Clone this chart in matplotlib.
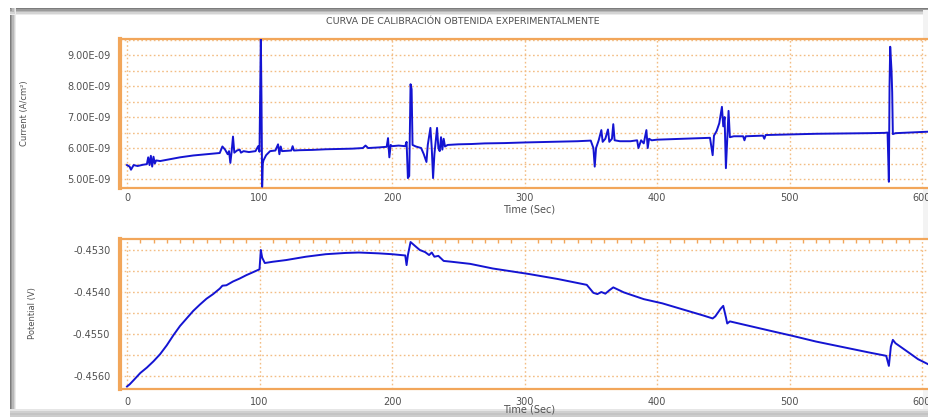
import matplotlib
matplotlib.use("Agg")
import matplotlib.pyplot as plt
from matplotlib.patches import Rectangle
from matplotlib.ticker import FuncFormatter, MultipleLocator

# ---------------- data ----------------
title = "CURVA DE CALIBRACIÓN OBTENIDA EXPERIMENTALMENTE"
xlabel = "Time (Sec)"
ylabel_top = "Current (A/cm²)"
ylabel_bot = "Potential (V)"
x_ticks = [0, 100, 200, 300, 400, 500, 600]
cur_ticks = [5e-9, 6e-9, 7e-9, 8e-9, 9e-9]
pot_ticks = [-0.4560, -0.4550, -0.4540, -0.4530]

# current (units of 1e-9 A/cm2)
cur_t = [0, 2, 3, 5, 8, 12, 15, 16, 17, 18, 19, 20, 21, 22, 25, 30, 40, 50, 60, 70,
         72, 74, 76, 77, 78, 79, 80, 81, 83, 85, 86, 88, 92, 97, 99, 100, 101, 101.5,
         102, 102.5, 103, 105, 108, 112, 114, 115, 116, 117, 124, 125, 126, 130, 140,
         150, 160, 170, 178, 180, 182, 190, 196, 197, 198, 199, 200, 205, 210, 211,
         212, 213, 214, 214.8, 215.5, 218, 222, 224, 226, 227, 229, 230, 231, 232, 234,
         235, 236, 237, 238, 239, 240, 242, 250, 260, 270, 285, 300, 320, 340, 350,
         352, 353, 354, 356, 358, 359, 361, 363, 364, 366, 367, 368, 372, 380, 385,
         386, 388, 390, 392, 393, 394, 396, 400, 420, 435, 440, 442, 443, 445, 447,
         449, 450, 451, 452, 453, 454, 455, 458, 465, 466, 467, 480, 481, 482, 500,
         520, 540, 560, 572, 574, 575, 575.5, 576, 577, 577.5, 578, 580, 590, 600, 606]
cur_v = [5.45, 5.40, 5.30, 5.45, 5.42, 5.46, 5.48, 5.70, 5.45, 5.75, 5.40, 5.72, 5.50, 5.60,
         5.58, 5.62, 5.70, 5.76, 5.80, 5.84,
         6.05, 5.95, 5.80, 5.90, 5.52, 5.90, 6.37, 5.85, 5.92, 5.95, 5.85, 5.90, 5.87, 5.90,
         6.06, 5.88, 9.60, 7.60,
         4.75, 5.50, 5.60, 5.77, 5.90, 5.92, 6.12, 5.80, 6.05, 5.90, 5.92, 6.06, 5.92, 5.93,
         5.94,
         5.96, 5.97, 5.98, 6.00, 6.08, 6.00, 6.02, 6.04, 6.32, 5.70, 6.10, 6.06, 6.08, 6.06,
         6.20,
         5.03, 5.10, 8.06, 7.90, 6.10, 6.05, 6.00, 5.80, 5.55, 6.10, 6.65, 6.00, 5.03, 5.80,
         6.65,
         6.00, 5.90, 6.35, 5.95, 6.30, 6.05, 6.10, 6.12, 6.13, 6.15, 6.16, 6.18, 6.20, 6.22,
         6.24,
         6.00, 5.40, 6.00, 6.25, 6.58, 6.20, 6.30, 6.60, 6.20, 6.30, 6.77, 6.25, 6.22, 6.22,
         6.25,
         6.00, 6.25, 6.15, 6.58, 6.00, 6.30, 6.25, 6.27, 6.30, 6.32, 6.33, 5.77, 6.40, 6.55,
         6.80,
         7.33, 6.70, 7.00, 5.35, 6.30, 7.20, 6.35, 6.38, 6.38, 6.25, 6.38, 6.40, 6.30, 6.42,
         6.44,
         6.46, 6.47, 6.48, 6.49, 6.50, 4.91, 8.00, 9.27, 8.50, 7.80, 6.45, 6.48, 6.50, 6.52,
         6.53]

# potential (V)
pot_t = [0, 2, 5, 10, 15, 20, 25, 30, 35, 40, 45, 50, 55, 60, 65, 70, 72, 75, 80, 85, 90,
         95, 100, 101, 102, 104, 106, 110, 120, 135, 150, 165, 175, 190, 200, 210, 211,
         212, 214, 218, 221, 225, 228, 230, 232, 235, 239, 245, 259, 276, 303, 325, 347,
         352, 355, 358, 361, 364, 367, 375, 390, 404, 420, 435, 442, 444, 448, 450, 452,
         453, 455, 470, 485, 503, 520, 540, 560, 573, 575, 576.5, 578, 580, 589, 597, 604,
         607]
pot_v = [-0.45625, -0.45620, -0.45610, -0.45593, -0.45580, -0.45565, -0.45548, -0.45527,
         -0.45503, -0.45481, -0.45463, -0.45445, -0.45430, -0.45416, -0.45405, -0.45392,
         -0.45385, -0.45384, -0.45375, -0.45368, -0.45360, -0.45353, -0.45346, -0.45300,
         -0.45318, -0.45331, -0.45330, -0.45328, -0.45324, -0.45316, -0.45310, -0.45307,
         -0.45306, -0.45308, -0.45310, -0.45313, -0.45336, -0.45312, -0.45281, -0.45292,
         -0.45300, -0.45305, -0.45312, -0.45306, -0.45316, -0.45314, -0.45326, -0.45328,
         -0.45333, -0.45344, -0.45357, -0.45369, -0.45383, -0.45402, -0.45405, -0.45400,
         -0.45404, -0.45396, -0.45389, -0.45401, -0.45417, -0.45427, -0.45442, -0.45456,
         -0.45463, -0.45458, -0.45440, -0.45433, -0.45460, -0.45475, -0.45470, -0.45481,
         -0.45492, -0.45505, -0.45518, -0.45531, -0.45544, -0.45552, -0.45576, -0.45530,
         -0.45514, -0.45522, -0.45542, -0.45560, -0.45571, -0.45576]

# ---------------- style ----------------
W, H = 929, 417
ORANGE = "#f2a65a"
GRID = "#f3bd84"
BLUE = "#1414d2"
TXT = "#505050"

plt.rcParams["font.family"] = ["DejaVu Sans"]

fig = plt.figure(figsize=(W / 100, H / 100), dpi=100)
fig.patch.set_facecolor("white")

def px(x0, y0, x1, y1):
    return [x0 / W, 1 - y1 / H, (x1 - x0) / W, (y1 - y0) / H]

# window frame / shadow decoration
def band(x0, y0, x1, y1, color):
    r = px(x0, y0, x1, y1)
    fig.add_artist(Rectangle((r[0], r[1]), r[2], r[3], transform=fig.transFigure,
                             facecolor=color, edgecolor="none", zorder=0))

for i, c in enumerate(["#7c7c7c", "#9a9a9a", "#b8b8b8", "#d4d4d4", "#ebebeb"]):
    band(10, 8 + i * 1.4, 929, 9.4 + i * 1.4, c)
    band(10 + i * 1.2, 8, 11.2 + i * 1.2, 417, c)
for i, c in enumerate(["#e6e6e6", "#d0d0d0", "#c4c4c4", "#cdcdcd"]):
    band(10, 409 + i * 2, 929, 411 + i * 2, c)
band(923, 10, 929, 409, "#f3f3f3")

fig.text(463 / W, 1 - 22 / H, title, ha="center", va="center", fontsize=6.8, color=TXT)

X0, X1 = 120, 929
t_left = (X0 - 127) / 1.325
t_right = (X1 - 127) / 1.325

def style(ax, major_y, minor_y, pad_x, top_ticks):
    ax.set_xlim(t_left, t_right)
    ax.set_xticks(x_ticks)
    ax.yaxis.set_major_locator(MultipleLocator(major_y))
    ax.yaxis.set_minor_locator(MultipleLocator(minor_y))
    ax.xaxis.set_minor_locator(MultipleLocator(10))
    ax.grid(True, which="major", axis="x", color=GRID, linestyle=(0, (1.2, 1.8)), linewidth=1.0)
    ax.grid(True, which="both", axis="y", color=GRID, linestyle=(0, (1.2, 1.8)), linewidth=1.0)
    for s in ["top", "bottom"]:
        ax.spines[s].set_color(ORANGE)
        ax.spines[s].set_linewidth(1.6)
    ax.spines["left"].set_color(ORANGE)
    ax.spines["left"].set_linewidth(3.0)
    ax.spines["right"].set_visible(False)
    ax.tick_params(axis="both", which="major", length=0, labelsize=7, labelcolor=TXT)
    ax.tick_params(axis="x", which="major", pad=pad_x)
    ax.tick_params(axis="y", which="major", pad=7)
    ax.tick_params(axis="x", which="minor", direction="in", top=top_ticks, bottom=False,
                   length=3 if top_ticks else 0, color=ORANGE, width=1)
    ax.tick_params(axis="y", which="minor", direction="in", left=True, length=0)
    ax.set_axisbelow(True)

# top panel: current
ax1 = fig.add_axes(px(X0, 39, X1, 188))
ax1.plot(cur_t, [v * 1e-9 for v in cur_v], color=BLUE, linewidth=1.4, zorder=3)
ax1.set_ylim(4.71e-9, 9.52e-9)
style(ax1, 1e-9, 0.5e-9, 3.4, False)
ax1.set_yticks(cur_ticks)
ax1.yaxis.set_major_formatter(FuncFormatter(lambda v, p: f"{v:.2E}"))
ax1.set_xlabel(xlabel, fontsize=7, color=TXT)
ax1.xaxis.set_label_coords((529.5 - X0) / (X1 - X0), (188 - 209) / 149)
ax1.xaxis.label.set_va("center")
ax1.set_ylabel(ylabel_top, fontsize=6, color=TXT)
ax1.yaxis.set_label_coords((25 - X0) / (X1 - X0), (188 - 113) / 149)
ax1.yaxis.label.set_va("center")

# bottom panel: potential
ax2 = fig.add_axes(px(X0, 239, X1, 389))
ax2.plot(pot_t, pot_v, color=BLUE, linewidth=1.4, zorder=3)
ax2.set_ylim(-0.456310, -0.452738)
style(ax2, 0.001, 0.0005, 5.5, True)
ax2.set_yticks(pot_ticks)
ax2.yaxis.set_major_formatter(FuncFormatter(lambda v, p: f"{v:.4f}"))
ax2.set_xlabel(xlabel, fontsize=7, color=TXT)
ax2.xaxis.set_label_coords((529.5 - X0) / (X1 - X0), (389 - 410) / 150)
ax2.xaxis.label.set_va("center")
ax2.set_ylabel(ylabel_bot, fontsize=6, color=TXT)
ax2.yaxis.set_label_coords((32 - X0) / (X1 - X0), (389 - 313) / 150)
ax2.yaxis.label.set_va("center")

fig.savefig("out.png", dpi=100)
